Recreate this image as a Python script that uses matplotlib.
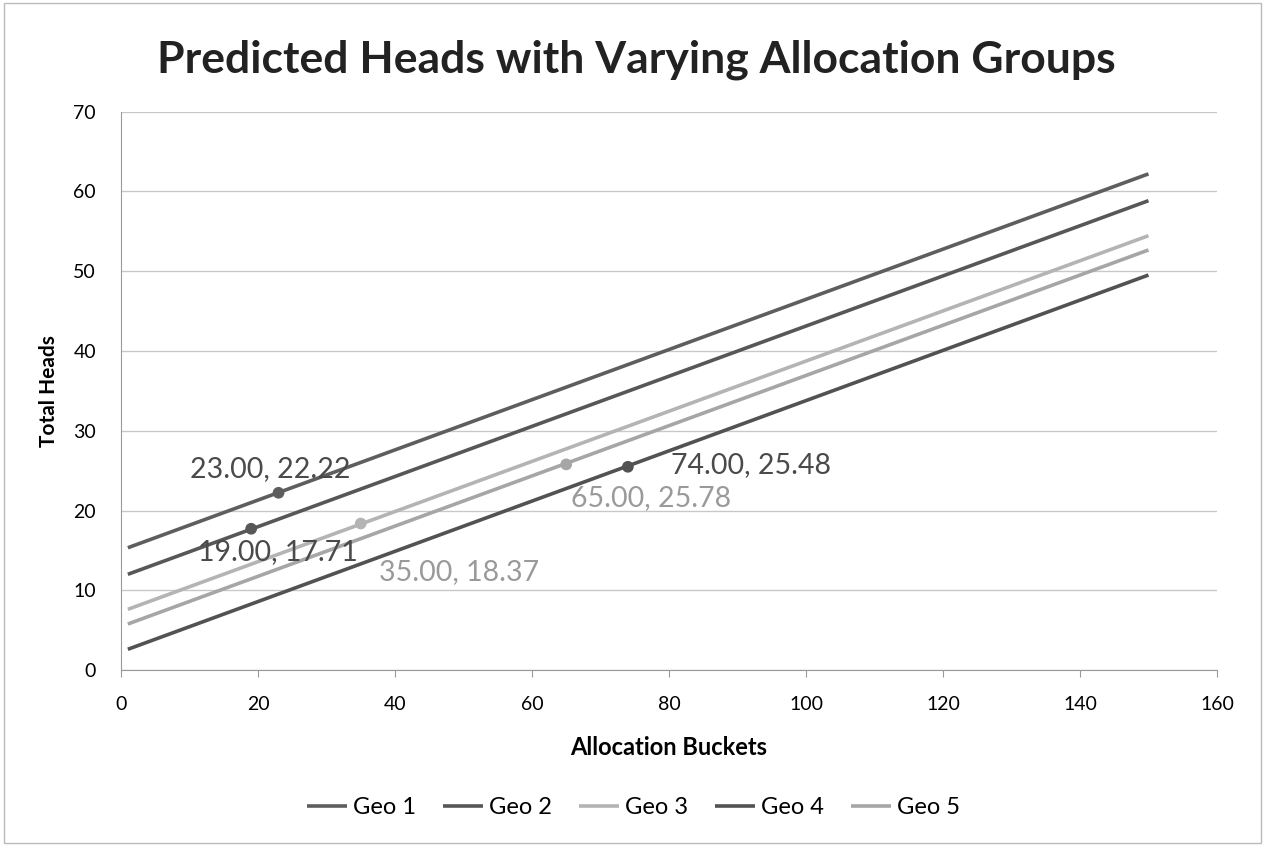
import matplotlib.pyplot as plt
from matplotlib.patches import Rectangle

plt.rcParams['font.family'] = ['Lato', 'DejaVu Sans']

# line end points (x = 1 and x = 150)
x_ends = [1, 150]
geo1 = [15.33, 62.2]
geo2 = [12.0, 58.84]
geo3 = [7.61, 54.45]
geo5 = [5.77, 52.66]
geo4 = [2.6, 49.52]

# labelled points
pt_x = [23, 19, 35, 65, 74]
pt_y = [22.22, 17.71, 18.37, 25.78, 25.48]

names = ['Geo 1', 'Geo 2', 'Geo 3', 'Geo 4', 'Geo 5']
series = [geo1, geo2, geo3, geo4, geo5]
colors = ['#5e5e5e', '#575757', '#b4b4b4', '#525252', '#a6a6a6']
pt_colors = ['#5e5e5e', '#575757', '#b4b4b4', '#a6a6a6', '#525252']
lbl_colors = ['#4a4a4a', '#4a4a4a', '#9a9a9a', '#9a9a9a', '#4a4a4a']

fig = plt.figure(figsize=(12.67, 8.46), dpi=100)
ax = fig.add_axes([0.0955, 0.208, 0.865, 0.66])

for name, ys, c in zip(names, series, colors):
    ax.plot(x_ends, ys, color=c, lw=2.6, label=name, solid_capstyle='butt')

ax.scatter(pt_x, pt_y, s=55, c=pt_colors, zorder=5)

# label offsets in points
offsets = [(-6, 17, 'center'), (19, -17, 'center'), (13, -35, 'left'),
           (3.5, -24, 'left'), (31, 1, 'left')]
for x, y, c, (dx, dy, ha) in zip(pt_x, pt_y, lbl_colors, offsets):
    ax.annotate(f'{x:.2f}, {y:.2f}', (x, y), xytext=(dx, dy), textcoords='offset points',
                ha=ha, va='center', fontsize=20.5, color=c)

ax.set_xlim(0, 160)
ax.set_ylim(0, 70)
ax.set_xticks(range(0, 161, 20))
ax.set_yticks(range(0, 71, 10))
ax.grid(axis='y', color='#c8c8c8', lw=1)
ax.set_axisbelow(True)
for s in ['top', 'right']:
    ax.spines[s].set_visible(False)
for s in ['left', 'bottom']:
    ax.spines[s].set_color('#999999')
ax.tick_params(axis='x', length=5, color='#999999', labelsize=14, pad=14)
ax.tick_params(axis='y', length=0, labelsize=14, pad=18)
ax.set_xlabel('Allocation Buckets', fontsize=17, fontweight='bold', labelpad=16)
ax.set_ylabel('Total Heads', fontsize=15, fontweight='bold', labelpad=10)

fig.text(0.502, 0.929, 'Predicted Heads with Varying Allocation Groups',
         ha='center', va='center', fontsize=32, fontweight='bold', color='#222222')

fig.legend(loc='center', bbox_to_anchor=(0.5, 0.045), ncol=5, frameon=False,
           fontsize=17, handlelength=1.7, handletextpad=0.25, columnspacing=1.15)

fig.patches.append(Rectangle((0.003, 0.004), 0.992, 0.992, transform=fig.transFigure,
                             fill=False, edgecolor='#bbbbbb', lw=1))

fig.savefig('out.png', dpi=100)
